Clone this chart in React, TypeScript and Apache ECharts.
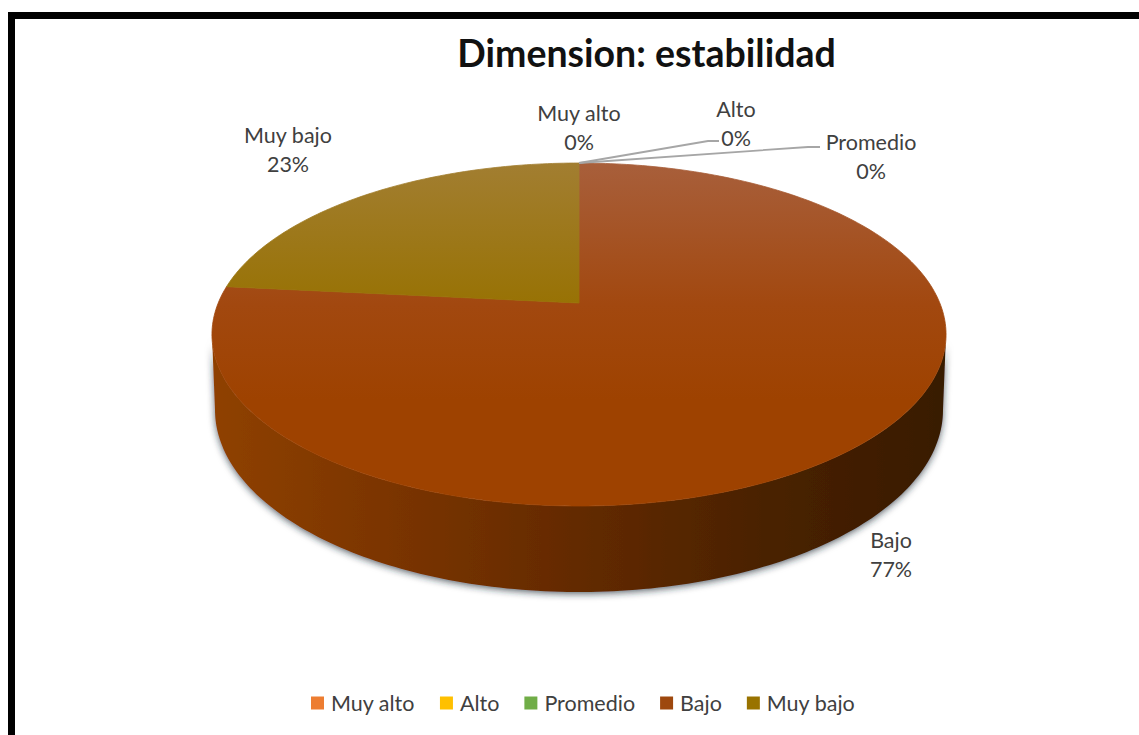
import React, { useEffect, useRef } from "react";
import * as echarts from "echarts";

const categories = ["Muy alto", "Alto", "Promedio", "Bajo", "Muy bajo"];
const values = [0, 0, 0, 76.6, 23.4];
const legendColors = ["#ed7d31", "#ffc000", "#70ad47", "#9e480e", "#997300"];
const topStops = [
  null,
  null,
  null,
  [["#a85f3b", 0], ["#a2480f", 0.6], ["#9e4200", 1]],
  [["#a27e31", 0], ["#977100", 0.65], ["#967000", 1]],
];
const labelAnchors = [
  [579, 112],
  [736, 108],
  [871, 141],
  [891, 539],
  [288, 134],
];
const leaderLines = [
  null,
  [[579, 163], [708, 141], [719, 141]],
  [[579, 163], [808, 147], [820, 147]],
  null,
  null,
];

const CX = 579;
const PERSPECTIVE = 0.1837;
const TOP_FACE = { y0: 303, a: 360.8, b: 165.7 };
const BOTTOM_FACE = { y0: 376.5, a: 357.8, b: 175.9 };
const TOTAL = values.reduce((s, v) => s + v, 0);
// the parts of the rim that face the viewer lie between the two silhouette tangents
const FRONT_START = Math.acos(-PERSPECTIVE);
const FRONT_END = Math.PI * 2 - FRONT_START;

function project(face: { y0: number; a: number; b: number }, t: number) {
  const u = Math.sin(t);
  const v = Math.cos(t);
  const w = 1 + PERSPECTIVE * v;
  return [CX + (face.a * u) / w, face.y0 - (face.b * v) / w];
}

function arc(face: any, t0: number, t1: number) {
  const n = Math.max(2, Math.ceil(((t1 - t0) / (Math.PI * 2)) * 360));
  const pts: number[][] = [];
  for (let i = 0; i <= n; i++) pts.push(project(face, t0 + ((t1 - t0) * i) / n));
  return pts;
}

function renderSlice(index: number) {
  return (_params: any, api: any) => {
    const value = api.value(0);
    const before = values.slice(0, index).reduce((s, v) => s + v, 0);
    const t0 = (before / TOTAL) * Math.PI * 2;
    const t1 = ((before + value) / TOTAL) * Math.PI * 2;
    const children: any[] = [];
    if (value > 0) {
      const s0 = Math.max(t0, FRONT_START);
      const s1 = Math.min(t1, FRONT_END);
      if (s1 > s0) {
        const sideTop = arc(TOP_FACE, s0, s1);
        const sideBottom = arc(BOTTOM_FACE, s0, s1).reverse();
        children.push({
          type: "polygon",
          z2: 1,
          shape: { points: [...sideTop, ...sideBottom] },
          style: {
            fill: {
              type: "linear",
              global: true,
              x: 212,
              y: 0,
              x2: 946,
              y2: 0,
              colorStops: [
                { offset: 0, color: "#8f4105" },
                { offset: 0.25, color: "#7a3400" },
                { offset: 0.5, color: "#632a00" },
                { offset: 0.75, color: "#4a2200" },
                { offset: 1, color: "#381a00" },
              ],
            },
            shadowBlur: 7,
            shadowColor: "rgba(30,40,50,0.7)",
            shadowOffsetY: 2,
          },
        });
      }
      const faceFill = {
        type: "linear",
        global: true,
        x: 0,
        y: 163,
        x2: 0,
        y2: 400,
        colorStops: (topStops[index] as any[]).map(([color, offset]) => ({ offset, color })),
      };
      children.push({
        type: "polygon",
        z2: 5,
        shape: { points: [[CX, TOP_FACE.y0], ...arc(TOP_FACE, t0, t1)] },
        style: { fill: faceFill, stroke: faceFill, lineWidth: 0.8 },
      });
    }
    const leader = leaderLines[index];
    if (leader) {
      children.push({
        type: "polyline",
        z2: 6,
        shape: { points: leader },
        style: { fill: "none", stroke: "#a6a6a6", lineWidth: 1.8 },
      });
    }
    const [lx, ly] = labelAnchors[index];
    children.push({
      type: "text",
      z2: 7,
      x: lx,
      y: ly - 14,
      style: {
        text: `${categories[index]}\n${Math.round((value / TOTAL) * 100)}%`,
        fill: "#404040",
        font: "21.5px Lato, sans-serif",
        align: "center",
        verticalAlign: "top",
        lineHeight: 29,
      },
    });
    return { type: "group", children };
  };
}

export default function App() {
  const ref = useRef<HTMLDivElement>(null);
  useEffect(() => {
    const chart = echarts.init(ref.current!, null, { renderer: "svg" });
    chart.setOption({
      animation: false,
      backgroundColor: "#ffffff",
      title: {
        text: "Dimension: estabilidad",
        left: 641.5,
        top: 28,
        textAlign: "center",
        textStyle: { fontFamily: "Lato, sans-serif", fontWeight: "bold", fontSize: 37.5, color: "#111111" },
      },
      legend: {
        data: categories,
        left: 306,
        top: 687,
        icon: "rect",
        itemWidth: 13,
        itemHeight: 13,
        itemGap: 25,
        textStyle: { fontFamily: "Lato, sans-serif", fontSize: 21.5, color: "#404040", padding: [0, 0, 0, 2] },
      },
      graphic: [
        { type: "rect", shape: { x: 8, y: 12, width: 1131, height: 7 }, style: { fill: "#000000" } },
        { type: "rect", shape: { x: 8, y: 12, width: 7, height: 723 }, style: { fill: "#000000" } },
      ],
      series: categories.map((name, i) => ({
        type: "custom",
        name,
        coordinateSystem: "none",
        itemStyle: { color: legendColors[i] },
        data: [[values[i]]],
        renderItem: renderSlice(i),
      })),
    });
    return () => chart.dispose();
  }, []);
  return <div ref={ref} style={{ position: "fixed", left: 0, top: 0, width: 1139, height: 735 }} />;
}
